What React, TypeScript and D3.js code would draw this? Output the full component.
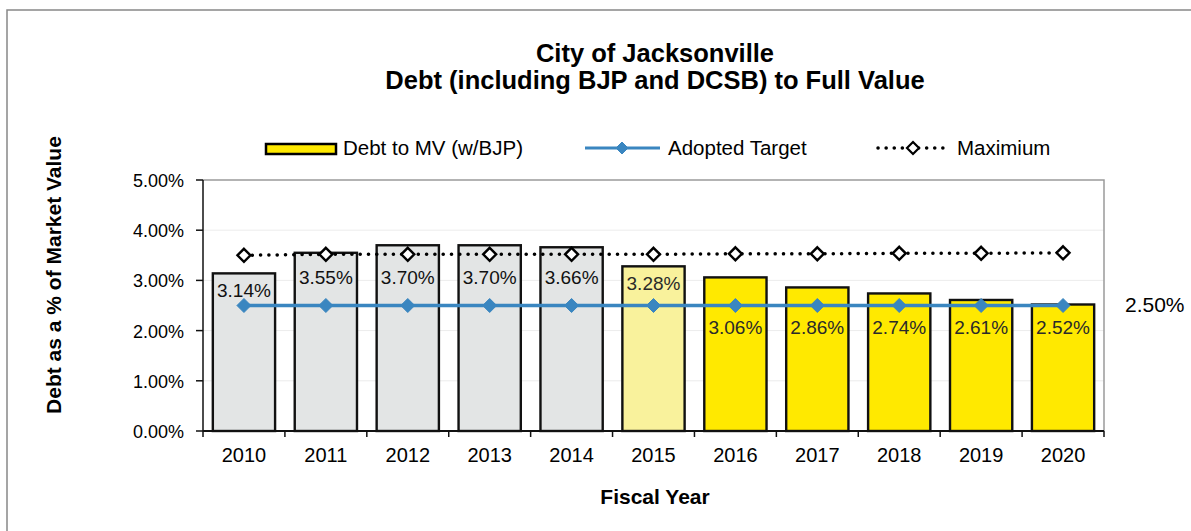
import React from "react";
import * as d3 from "d3";

const years = ["2010","2011","2012","2013","2014","2015","2016","2017","2018","2019","2020"];
const debtToMV = [3.14, 3.55, 3.70, 3.70, 3.66, 3.28, 3.06, 2.86, 2.74, 2.61, 2.52];
const adoptedTarget = [2.5, 2.5, 2.5, 2.5, 2.5, 2.5, 2.5, 2.5, 2.5, 2.5, 2.5];
const maximum = [3.5, 3.52, 3.52, 3.52, 3.52, 3.52, 3.53, 3.53, 3.54, 3.54, 3.55];
const yTicks = [0, 1, 2, 3, 4, 5];
const barKind = ["actual","actual","actual","actual","actual","estimate","projected","projected","projected","projected","projected"];

const W = 1191, H = 531;
const left = 203, right = 1104, top = 180, bottom = 431;
const FONT = "'Liberation Sans', Arial, sans-serif";

const fills: Record<string, string> = { actual: "#e3e5e5", estimate: "#f9f29c", projected: "#ffe900" };

function Diamond({ x, y, r, fill, stroke, sw }: any) {
  return <path d={`M${x},${y - r}L${x + r},${y}L${x},${y + r}L${x - r},${y}Z`} fill={fill} stroke={stroke} strokeWidth={sw} />;
}

export default function App() {
  const x = d3.scaleBand().domain(years).range([left, right]).paddingInner(0.24).paddingOuter(0.12);
  const xb = d3.scaleBand().domain(years).range([left, right]);
  const y = d3.scaleLinear().domain([0, 5]).range([bottom, top]);
  const line = d3.line<number>().x((_, i) => (xb(years[i]) as number) + xb.bandwidth() / 2).y((d) => y(d));
  const cx = (i: number) => (xb(years[i]) as number) + xb.bandwidth() / 2;

  return (
    <svg width={W} height={H} style={{ position: "absolute", left: 0, top: 0, background: "#fff" }} fontFamily={FONT}>
      <rect x={0} y={0} width={W} height={H} fill="#fff" />
      <path d={`M7,${H}L7,10L${W},10`} fill="none" stroke="#888" strokeWidth={1.5} />
      <text x={655} y={62} textAnchor="middle" fontSize={25.5} fontWeight="bold">City of Jacksonville</text>
      <text x={655} y={89} textAnchor="middle" fontSize={25.5} fontWeight="bold">Debt (including BJP and DCSB) to Full Value</text>

      {/* legend */}
      <rect x={266} y={144} width={70} height={10} fill="#ffe900" stroke="#000" strokeWidth={2.5} />
      <text x={343} y={155} fontSize={20.5}>Debt to MV (w/BJP)</text>
      <line x1={585} y1={148} x2={660} y2={148} stroke="#3a86c0" strokeWidth={3} />
      <Diamond x={622} y={148} r={6} fill="#3a86c0" stroke="#3a86c0" sw={1} />
      <text x={668} y={155} fontSize={20.5}>Adopted Target</text>
      <line x1={878} y1={148} x2={950} y2={148} stroke="#000" strokeWidth={3.5} strokeDasharray="0.1 8" strokeLinecap="round" />
      <Diamond x={913} y={148} r={6} fill="#fff" stroke="#000" sw={2.2} />
      <text x={957} y={155} fontSize={20.5}>Maximium</text>

      {/* grid */}
      {yTicks.filter((t) => t > 0 && t < 5).map((t) => (
        <line key={t} x1={left} x2={right} y1={y(t)} y2={y(t)} stroke="#ececec" strokeWidth={1} />
      ))}
      <path d={`M${left},${top}L${right},${top}L${right},${bottom}`} fill="none" stroke="#9a9a9a" strokeWidth={1.5} />

      {/* bars */}
      {debtToMV.map((v, i) => (
        <rect key={i} x={x(years[i])} y={y(v)} width={x.bandwidth()} height={bottom - y(v)}
          fill={fills[barKind[i]]} stroke="#111" strokeWidth={2.4} />
      ))}

      {/* target line */}
      <path d={line(adoptedTarget) as string} fill="none" stroke="#3a86c0" strokeWidth={3.5} />
      {adoptedTarget.map((v, i) => (
        <Diamond key={i} x={cx(i)} y={y(v)} r={7} fill="#3a86c0" stroke="#3a86c0" sw={1} />
      ))}

      {/* maximum line */}
      <path d={line(maximum) as string} fill="none" stroke="#000" strokeWidth={3.5} strokeDasharray="0.1 8.2" strokeLinecap="round" />
      {maximum.map((v, i) => (
        <Diamond key={i} x={cx(i)} y={y(v)} r={6.5} fill="#fff" stroke="#000" sw={2.4} />
      ))}

      {/* labels */}
      {debtToMV.map((v, i) => {
        const ly = i < 6 ? Math.max(y(v) + 24, y(maximum[i]) + 30) : y(2.5) + 28;
        return (
          <text key={i} x={cx(i)} y={ly} textAnchor="middle" fontSize={19} fill={i >= 5 ? "#2a2a2a" : "#111"}>
            {v.toFixed(2)}%
          </text>
        );
      })}

      <text x={1125} y={312} fontSize={21}>2.50%</text>

      {/* axes */}
      <line x1={left} x2={left} y1={top} y2={bottom} stroke="#111" strokeWidth={1.5} />
      {yTicks.map((t) => (
        <g key={t}>
          <line x1={left - 7} x2={left} y1={y(t)} y2={y(t)} stroke="#111" strokeWidth={1.5} />
          <text x={left - 19} y={y(t) + 7} textAnchor="end" fontSize={18}>{t.toFixed(2)}%</text>
        </g>
      ))}
      <line x1={left} x2={right} y1={bottom} y2={bottom} stroke="#111" strokeWidth={1.8} />
      {years.map((yr, i) => (
        <g key={yr}>
          <line x1={(xb(yr) as number) + xb.bandwidth()} x2={(xb(yr) as number) + xb.bandwidth()} y1={bottom} y2={bottom + 6} stroke="#111" strokeWidth={1.5} />
          <text x={cx(i)} y={462} textAnchor="middle" fontSize={20}>{yr}</text>
        </g>
      ))}
      <line x1={left} x2={left} y1={bottom} y2={bottom + 6} stroke="#111" strokeWidth={1.5} />
      <text x={655} y={504} textAnchor="middle" fontSize={21} fontWeight="bold">Fiscal Year</text>
      <text transform="translate(61,275) rotate(-90)" textAnchor="middle" fontSize={21} fontWeight="bold">Debt as a % of Market Value</text>
    </svg>
  );
}
